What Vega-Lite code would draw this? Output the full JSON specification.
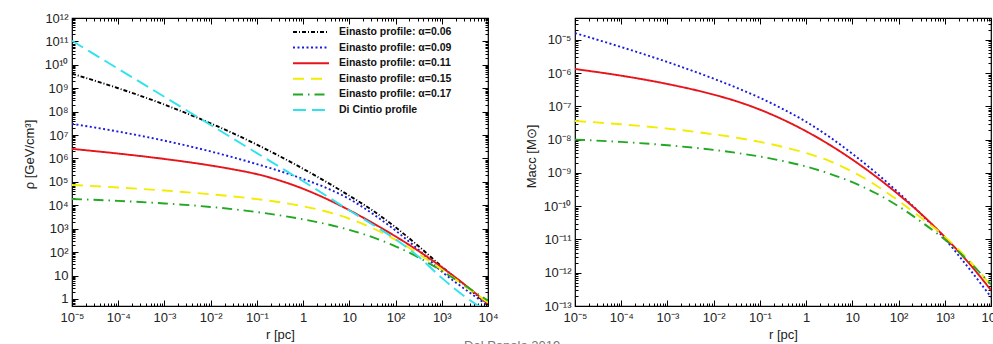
{
  "$schema": "https://vega.github.io/schema/vega-lite/v6.json",
  "background": "white",
  "padding": {"left": 22, "top": 11, "right": 4, "bottom": 0},
  "bounds": "flush",
  "spacing": 87,
  "config": {
    "font": "Liberation Sans",
    "view": {"stroke": "black", "strokeWidth": 1.2},
    "axis": {
      "domain": false, "grid": false, "tickColor": "black", "tickWidth": 1,
      "labelColor": "#222", "labelFontSize": 13, "labelFont": "Liberation Sans",
      "titleColor": "#222", "titleFontSize": 13, "titleFontWeight": "normal", "titleFont": "Liberation Sans",
      "labelOverlap": false, "labelFlush": false
    }
  },
  "title": {"text": "Del Popolo 2019", "orient": "bottom", "anchor": "middle", "color": "#777", "fontSize": 13, "fontWeight": "normal", "offset": -2},
  "resolve": {"scale": {"color": "independent", "strokeDash": "independent"}},
  "datasets": {
    "rho": [
      {"series": "Einasto profile: α=0.06", "r": 1e-5, "value": 4.17e9},
      {"series": "Einasto profile: α=0.06", "r": 1e-4, "value": 1e9},
      {"series": "Einasto profile: α=0.06", "r": 1e-3, "value": 2.0e8},
      {"series": "Einasto profile: α=0.06", "r": 0.01, "value": 3.16e7},
      {"series": "Einasto profile: α=0.06", "r": 0.03162, "value": 1.15e7},
      {"series": "Einasto profile: α=0.06", "r": 0.1, "value": 3.89e6},
      {"series": "Einasto profile: α=0.06", "r": 0.3162, "value": 1.23e6},
      {"series": "Einasto profile: α=0.06", "r": 1, "value": 3.63e5},
      {"series": "Einasto profile: α=0.06", "r": 3.162, "value": 1.0e5},
      {"series": "Einasto profile: α=0.06", "r": 10, "value": 2.57e4},
      {"series": "Einasto profile: α=0.06", "r": 31.62, "value": 6095},
      {"series": "Einasto profile: α=0.06", "r": 100, "value": 1148},
      {"series": "Einasto profile: α=0.06", "r": 316.2, "value": 178},
      {"series": "Einasto profile: α=0.06", "r": 1000, "value": 24.0},
      {"series": "Einasto profile: α=0.06", "r": 3162, "value": 3.8},
      {"series": "Einasto profile: α=0.06", "r": 10000, "value": 0.562},
      {"series": "Einasto profile: α=0.09", "r": 1e-5, "value": 3.02e7},
      {"series": "Einasto profile: α=0.09", "r": 1e-4, "value": 1.41e7},
      {"series": "Einasto profile: α=0.09", "r": 1e-3, "value": 5.75e6},
      {"series": "Einasto profile: α=0.09", "r": 0.01, "value": 2.0e6},
      {"series": "Einasto profile: α=0.09", "r": 0.03162, "value": 1.10e6},
      {"series": "Einasto profile: α=0.09", "r": 0.1, "value": 5.75e5},
      {"series": "Einasto profile: α=0.09", "r": 0.3162, "value": 2.88e5},
      {"series": "Einasto profile: α=0.09", "r": 1, "value": 1.33e5},
      {"series": "Einasto profile: α=0.09", "r": 3.162, "value": 5.56e4},
      {"series": "Einasto profile: α=0.09", "r": 10, "value": 1.86e4},
      {"series": "Einasto profile: α=0.09", "r": 31.62, "value": 4416},
      {"series": "Einasto profile: α=0.09", "r": 100, "value": 832},
      {"series": "Einasto profile: α=0.09", "r": 316.2, "value": 124.5},
      {"series": "Einasto profile: α=0.09", "r": 1000, "value": 14.8},
      {"series": "Einasto profile: α=0.09", "r": 3162, "value": 2.63},
      {"series": "Einasto profile: α=0.09", "r": 10000, "value": 0.525},
      {"series": "Einasto profile: α=0.11", "r": 1e-5, "value": 2.57e6},
      {"series": "Einasto profile: α=0.11", "r": 1e-4, "value": 1.62e6},
      {"series": "Einasto profile: α=0.11", "r": 1e-3, "value": 9.55e5},
      {"series": "Einasto profile: α=0.11", "r": 0.01, "value": 5.01e5},
      {"series": "Einasto profile: α=0.11", "r": 0.03162, "value": 3.39e5},
      {"series": "Einasto profile: α=0.11", "r": 0.1, "value": 2.14e5},
      {"series": "Einasto profile: α=0.11", "r": 0.3162, "value": 1.135e5},
      {"series": "Einasto profile: α=0.11", "r": 1, "value": 5.07e4},
      {"series": "Einasto profile: α=0.11", "r": 3.162, "value": 1.905e4},
      {"series": "Einasto profile: α=0.11", "r": 10, "value": 6166},
      {"series": "Einasto profile: α=0.11", "r": 31.62, "value": 1778},
      {"series": "Einasto profile: α=0.11", "r": 100, "value": 468},
      {"series": "Einasto profile: α=0.11", "r": 316.2, "value": 111},
      {"series": "Einasto profile: α=0.11", "r": 1000, "value": 22.6},
      {"series": "Einasto profile: α=0.11", "r": 3162, "value": 4.03},
      {"series": "Einasto profile: α=0.11", "r": 10000, "value": 0.624},
      {"series": "Einasto profile: α=0.15", "r": 1e-5, "value": 7.41e4},
      {"series": "Einasto profile: α=0.15", "r": 1e-4, "value": 5.75e4},
      {"series": "Einasto profile: α=0.15", "r": 1e-3, "value": 4.27e4},
      {"series": "Einasto profile: α=0.15", "r": 0.01, "value": 2.95e4},
      {"series": "Einasto profile: α=0.15", "r": 0.03162, "value": 2.37e4},
      {"series": "Einasto profile: α=0.15", "r": 0.1, "value": 1.84e4},
      {"series": "Einasto profile: α=0.15", "r": 0.3162, "value": 1.35e4},
      {"series": "Einasto profile: α=0.15", "r": 1, "value": 9120},
      {"series": "Einasto profile: α=0.15", "r": 3.162, "value": 5433},
      {"series": "Einasto profile: α=0.15", "r": 10, "value": 2661},
      {"series": "Einasto profile: α=0.15", "r": 31.62, "value": 1059},
      {"series": "Einasto profile: α=0.15", "r": 100, "value": 335},
      {"series": "Einasto profile: α=0.15", "r": 316.2, "value": 84.1},
      {"series": "Einasto profile: α=0.15", "r": 1000, "value": 17.8},
      {"series": "Einasto profile: α=0.15", "r": 3162, "value": 3.55},
      {"series": "Einasto profile: α=0.15", "r": 10000, "value": 0.708},
      {"series": "Einasto profile: α=0.17", "r": 1e-5, "value": 1.86e4},
      {"series": "Einasto profile: α=0.17", "r": 1e-4, "value": 1.55e4},
      {"series": "Einasto profile: α=0.17", "r": 1e-3, "value": 1.20e4},
      {"series": "Einasto profile: α=0.17", "r": 0.01, "value": 8511},
      {"series": "Einasto profile: α=0.17", "r": 0.03162, "value": 6761},
      {"series": "Einasto profile: α=0.17", "r": 0.1, "value": 5129},
      {"series": "Einasto profile: α=0.17", "r": 0.3162, "value": 3715},
      {"series": "Einasto profile: α=0.17", "r": 1, "value": 2512},
      {"series": "Einasto profile: α=0.17", "r": 3.162, "value": 1585},
      {"series": "Einasto profile: α=0.17", "r": 10, "value": 891},
      {"series": "Einasto profile: α=0.17", "r": 31.62, "value": 437},
      {"series": "Einasto profile: α=0.17", "r": 100, "value": 178},
      {"series": "Einasto profile: α=0.17", "r": 316.2, "value": 58.9},
      {"series": "Einasto profile: α=0.17", "r": 1000, "value": 15.8},
      {"series": "Einasto profile: α=0.17", "r": 3162, "value": 3.76},
      {"series": "Einasto profile: α=0.17", "r": 10000, "value": 0.841},
      {"series": "Di Cintio profile", "r": 1e-5, "value": 1.07e11},
      {"series": "Di Cintio profile", "r": 1e-4, "value": 6.76e9},
      {"series": "Di Cintio profile", "r": 1e-3, "value": 4.27e8},
      {"series": "Di Cintio profile", "r": 0.01, "value": 2.69e7},
      {"series": "Di Cintio profile", "r": 0.03162, "value": 6.76e6},
      {"series": "Di Cintio profile", "r": 0.1, "value": 1.70e6},
      {"series": "Di Cintio profile", "r": 0.3162, "value": 4.27e5},
      {"series": "Di Cintio profile", "r": 1, "value": 1.07e5},
      {"series": "Di Cintio profile", "r": 3.162, "value": 2.57e4},
      {"series": "Di Cintio profile", "r": 10, "value": 6026},
      {"series": "Di Cintio profile", "r": 31.62, "value": 1514},
      {"series": "Di Cintio profile", "r": 100, "value": 355},
      {"series": "Di Cintio profile", "r": 316.2, "value": 63.1},
      {"series": "Di Cintio profile", "r": 1000, "value": 7.94},
      {"series": "Di Cintio profile", "r": 3162, "value": 1.26},
      {"series": "Di Cintio profile", "r": 10000, "value": 0.282}
    ],
    "macc": [
      {"series": "Einasto profile: α=0.09", "r": 1e-5, "value": 1.585e-5},
      {"series": "Einasto profile: α=0.09", "r": 1e-4, "value": 6.03e-6},
      {"series": "Einasto profile: α=0.09", "r": 1e-3, "value": 2.14e-6},
      {"series": "Einasto profile: α=0.09", "r": 0.01, "value": 6.76e-7},
      {"series": "Einasto profile: α=0.09", "r": 0.03162, "value": 3.59e-7},
      {"series": "Einasto profile: α=0.09", "r": 0.1, "value": 1.80e-7},
      {"series": "Einasto profile: α=0.09", "r": 0.3162, "value": 8.22e-8},
      {"series": "Einasto profile: α=0.09", "r": 1, "value": 3.43e-8},
      {"series": "Einasto profile: α=0.09", "r": 3.162, "value": 1.216e-8},
      {"series": "Einasto profile: α=0.09", "r": 10, "value": 3.76e-9},
      {"series": "Einasto profile: α=0.09", "r": 31.62, "value": 1.035e-9},
      {"series": "Einasto profile: α=0.09", "r": 100, "value": 2.54e-10},
      {"series": "Einasto profile: α=0.09", "r": 316.2, "value": 5.56e-11},
      {"series": "Einasto profile: α=0.09", "r": 1000, "value": 1.047e-11},
      {"series": "Einasto profile: α=0.09", "r": 3162, "value": 1.48e-12},
      {"series": "Einasto profile: α=0.09", "r": 10000, "value": 1.86e-13},
      {"series": "Einasto profile: α=0.11", "r": 1e-5, "value": 1.318e-6},
      {"series": "Einasto profile: α=0.11", "r": 1e-4, "value": 8.32e-7},
      {"series": "Einasto profile: α=0.11", "r": 1e-3, "value": 4.68e-7},
      {"series": "Einasto profile: α=0.11", "r": 0.01, "value": 2.24e-7},
      {"series": "Einasto profile: α=0.11", "r": 0.03162, "value": 1.41e-7},
      {"series": "Einasto profile: α=0.11", "r": 0.1, "value": 7.94e-8},
      {"series": "Einasto profile: α=0.11", "r": 0.3162, "value": 3.98e-8},
      {"series": "Einasto profile: α=0.11", "r": 1, "value": 1.778e-8},
      {"series": "Einasto profile: α=0.11", "r": 3.162, "value": 7.08e-9},
      {"series": "Einasto profile: α=0.11", "r": 10, "value": 2.51e-9},
      {"series": "Einasto profile: α=0.11", "r": 31.62, "value": 7.94e-10},
      {"series": "Einasto profile: α=0.11", "r": 100, "value": 2.24e-10},
      {"series": "Einasto profile: α=0.11", "r": 316.2, "value": 5.62e-11},
      {"series": "Einasto profile: α=0.11", "r": 1000, "value": 1.189e-11},
      {"series": "Einasto profile: α=0.11", "r": 3162, "value": 2.11e-12},
      {"series": "Einasto profile: α=0.11", "r": 10000, "value": 2.99e-13},
      {"series": "Einasto profile: α=0.15", "r": 1e-5, "value": 3.63e-8},
      {"series": "Einasto profile: α=0.15", "r": 1e-4, "value": 2.88e-8},
      {"series": "Einasto profile: α=0.15", "r": 1e-3, "value": 2.14e-8},
      {"series": "Einasto profile: α=0.15", "r": 0.01, "value": 1.445e-8},
      {"series": "Einasto profile: α=0.15", "r": 0.03162, "value": 1.135e-8},
      {"series": "Einasto profile: α=0.15", "r": 0.1, "value": 8.51e-9},
      {"series": "Einasto profile: α=0.15", "r": 0.3162, "value": 6.03e-9},
      {"series": "Einasto profile: α=0.15", "r": 1, "value": 3.94e-9},
      {"series": "Einasto profile: α=0.15", "r": 3.162, "value": 2.29e-9},
      {"series": "Einasto profile: α=0.15", "r": 10, "value": 1.084e-9},
      {"series": "Einasto profile: α=0.15", "r": 31.62, "value": 4.32e-10},
      {"series": "Einasto profile: α=0.15", "r": 100, "value": 1.445e-10},
      {"series": "Einasto profile: α=0.15", "r": 316.2, "value": 4.32e-11},
      {"series": "Einasto profile: α=0.15", "r": 1000, "value": 1.216e-11},
      {"series": "Einasto profile: α=0.15", "r": 3162, "value": 2.57e-12},
      {"series": "Einasto profile: α=0.15", "r": 10000, "value": 4.07e-13},
      {"series": "Einasto profile: α=0.17", "r": 1e-5, "value": 1.0e-8},
      {"series": "Einasto profile: α=0.17", "r": 1e-4, "value": 8.51e-9},
      {"series": "Einasto profile: α=0.17", "r": 1e-3, "value": 6.76e-9},
      {"series": "Einasto profile: α=0.17", "r": 0.01, "value": 4.90e-9},
      {"series": "Einasto profile: α=0.17", "r": 0.03162, "value": 3.98e-9},
      {"series": "Einasto profile: α=0.17", "r": 0.1, "value": 3.09e-9},
      {"series": "Einasto profile: α=0.17", "r": 0.3162, "value": 2.265e-9},
      {"series": "Einasto profile: α=0.17", "r": 1, "value": 1.549e-9},
      {"series": "Einasto profile: α=0.17", "r": 3.162, "value": 9.55e-10},
      {"series": "Einasto profile: α=0.17", "r": 10, "value": 5.25e-10},
      {"series": "Einasto profile: α=0.17", "r": 31.62, "value": 2.48e-10},
      {"series": "Einasto profile: α=0.17", "r": 100, "value": 9.89e-11},
      {"series": "Einasto profile: α=0.17", "r": 316.2, "value": 3.31e-11},
      {"series": "Einasto profile: α=0.17", "r": 1000, "value": 9.89e-12},
      {"series": "Einasto profile: α=0.17", "r": 3162, "value": 2.34e-12},
      {"series": "Einasto profile: α=0.17", "r": 10000, "value": 4.42e-13}
    ]
  },
  "hconcat": [
    {
      "width": 416, "height": 288,
      "data": {"name": "rho"},
      "layer": [
        {
          "mark": {"type": "line", "clip": true, "strokeWidth": 1.9, "interpolate": "monotone"},
          "encoding": {
            "x": {"field": "r", "type": "quantitative",
              "scale": {"type": "log", "domain": [1e-5, 1e4], "nice": false},
              "axis": {"orient": "bottom", "title": "r [pc]", "titlePadding": 1,
                "values": [1e-5,2e-5,3e-5,4e-5,5e-5,6e-5,7e-5,8e-5,9e-5,1e-4,2e-4,3e-4,4e-4,5e-4,6e-4,7e-4,8e-4,9e-4,0.001,0.002,0.003,0.004,0.005,0.006,0.007,0.008,0.009,0.01,0.02,0.03,0.04,0.05,0.06,0.07,0.08,0.09,0.1,0.2,0.3,0.4,0.5,0.6,0.7,0.8,0.9,1,2,3,4,5,6,7,8,9,10,20,30,40,50,60,70,80,90,100,200,300,400,500,600,700,800,900,1000,2000,3000,4000,5000,6000,7000,8000,9000,10000],
                "tickSize": {"condition": {"test": "abs(log(datum.value)/LN10-round(log(datum.value)/LN10))<0.001", "value": -6}, "value": -3},
                "labelPadding": 11,
                "labelExpr": "abs(log(datum.value)/LN10-round(log(datum.value)/LN10))<0.001 ? ['10⁻⁵','10⁻⁴','10⁻³','10⁻²','10⁻¹','1','10','10²','10³','10⁴'][round(log(datum.value)/LN10)+5] : ''"}},
            "y": {"field": "value", "type": "quantitative",
              "scale": {"type": "log", "domain": [0.5, 1e12], "nice": false},
              "axis": {"orient": "left", "title": "ρ [GeV/cm³]", "titlePadding": 8, "titleY": 136,
                "values": [0.6,0.7,0.8,0.9,1,2,3,4,5,6,7,8,9,10,20,30,40,50,60,70,80,90,100,200,300,400,500,600,700,800,900,1000,2000,3000,4000,5000,6000,7000,8000,9000,1e4,2e4,3e4,4e4,5e4,6e4,7e4,8e4,9e4,1e5,2e5,3e5,4e5,5e5,6e5,7e5,8e5,9e5,1e6,2e6,3e6,4e6,5e6,6e6,7e6,8e6,9e6,1e7,2e7,3e7,4e7,5e7,6e7,7e7,8e7,9e7,1e8,2e8,3e8,4e8,5e8,6e8,7e8,8e8,9e8,1e9,2e9,3e9,4e9,5e9,6e9,7e9,8e9,9e9,1e10,2e10,3e10,4e10,5e10,6e10,7e10,8e10,9e10,1e11,2e11,3e11,4e11,5e11,6e11,7e11,8e11,9e11,1e12],
                "tickSize": {"condition": {"test": "abs(log(datum.value)/LN10-round(log(datum.value)/LN10))<0.001", "value": -6}, "value": -3},
                "labelPadding": 10,
                "labelExpr": "abs(log(datum.value)/LN10-round(log(datum.value)/LN10))<0.001 ? ['1','10','10²','10³','10⁴','10⁵','10⁶','10⁷','10⁸','10⁹','10¹⁰','10¹¹','10¹²'][round(log(datum.value)/LN10)] : ''"}},
            "color": {"field": "series", "type": "nominal",
              "scale": {"domain": ["Einasto profile: α=0.06","Einasto profile: α=0.09","Einasto profile: α=0.11","Einasto profile: α=0.15","Einasto profile: α=0.17","Di Cintio profile"],
                "range": ["#000000","#1c1cdc","#e8141c","#f2ec00","#22a822","#30e2ee"]},
              "legend": {"orient": "none", "legendX": 232, "legendY": 7, "title": null, "padding": 0,
                "symbolType": "M-3,0H3", "symbolSize": 144, "symbolStrokeWidth": 2,
                "labelFontSize": 10.5, "labelFontWeight": "bold", "labelFont": "Liberation Sans", "labelColor": "#111",
                "labelOffset": 21, "rowPadding": 2.6}},
            "strokeDash": {"field": "series", "type": "nominal",
              "scale": {"domain": ["Einasto profile: α=0.06","Einasto profile: α=0.09","Einasto profile: α=0.11","Einasto profile: α=0.15","Einasto profile: α=0.17","Di Cintio profile"],
                "range": [[4,2,1,2],[2,2.5],[1,0],[11,7],[10,5,1.5,5],[13,6]]},
              "legend": {"orient": "none", "legendX": 232, "legendY": 7, "title": null, "padding": 0,
                "symbolType": "M-3,0H3", "symbolSize": 144, "symbolStrokeWidth": 2,
                "labelFontSize": 10.5, "labelFontWeight": "bold", "labelFont": "Liberation Sans", "labelColor": "#111",
                "labelOffset": 21, "rowPadding": 2.6}}
          }
        },
        {
          "mark": {"type": "line", "opacity": 0},
          "encoding": {
            "x": {"field": "r", "type": "quantitative",
              "axis": {"orient": "top", "title": null, "labels": false,
                "values": [1e-5,2e-5,3e-5,4e-5,5e-5,6e-5,7e-5,8e-5,9e-5,1e-4,2e-4,3e-4,4e-4,5e-4,6e-4,7e-4,8e-4,9e-4,0.001,0.002,0.003,0.004,0.005,0.006,0.007,0.008,0.009,0.01,0.02,0.03,0.04,0.05,0.06,0.07,0.08,0.09,0.1,0.2,0.3,0.4,0.5,0.6,0.7,0.8,0.9,1,2,3,4,5,6,7,8,9,10,20,30,40,50,60,70,80,90,100,200,300,400,500,600,700,800,900,1000,2000,3000,4000,5000,6000,7000,8000,9000,10000],
                "tickSize": {"condition": {"test": "abs(log(datum.value)/LN10-round(log(datum.value)/LN10))<0.001", "value": -6}, "value": -3}}},
            "y": {"field": "value", "type": "quantitative",
              "axis": {"orient": "right", "title": null, "labels": false,
                "values": [0.6,0.7,0.8,0.9,1,2,3,4,5,6,7,8,9,10,20,30,40,50,60,70,80,90,100,200,300,400,500,600,700,800,900,1000,2000,3000,4000,5000,6000,7000,8000,9000,1e4,2e4,3e4,4e4,5e4,6e4,7e4,8e4,9e4,1e5,2e5,3e5,4e5,5e5,6e5,7e5,8e5,9e5,1e6,2e6,3e6,4e6,5e6,6e6,7e6,8e6,9e6,1e7,2e7,3e7,4e7,5e7,6e7,7e7,8e7,9e7,1e8,2e8,3e8,4e8,5e8,6e8,7e8,8e8,9e8,1e9,2e9,3e9,4e9,5e9,6e9,7e9,8e9,9e9,1e10,2e10,3e10,4e10,5e10,6e10,7e10,8e10,9e10,1e11,2e11,3e11,4e11,5e11,6e11,7e11,8e11,9e11,1e12],
                "tickSize": {"condition": {"test": "abs(log(datum.value)/LN10-round(log(datum.value)/LN10))<0.001", "value": -6}, "value": -3}}}
          }
        }
      ],
      "resolve": {"axis": {"x": "independent", "y": "independent"}}
    },
    {
      "width": 416, "height": 288,
      "data": {"name": "macc"},
      "layer": [
        {
          "mark": {"type": "line", "clip": true, "strokeWidth": 1.9, "interpolate": "monotone"},
          "encoding": {
            "x": {"field": "r", "type": "quantitative",
              "scale": {"type": "log", "domain": [1e-5, 1e4], "nice": false},
              "axis": {"orient": "bottom", "title": "r [pc]", "titlePadding": 1,
                "values": [1e-5,2e-5,3e-5,4e-5,5e-5,6e-5,7e-5,8e-5,9e-5,1e-4,2e-4,3e-4,4e-4,5e-4,6e-4,7e-4,8e-4,9e-4,0.001,0.002,0.003,0.004,0.005,0.006,0.007,0.008,0.009,0.01,0.02,0.03,0.04,0.05,0.06,0.07,0.08,0.09,0.1,0.2,0.3,0.4,0.5,0.6,0.7,0.8,0.9,1,2,3,4,5,6,7,8,9,10,20,30,40,50,60,70,80,90,100,200,300,400,500,600,700,800,900,1000,2000,3000,4000,5000,6000,7000,8000,9000,10000],
                "tickSize": {"condition": {"test": "abs(log(datum.value)/LN10-round(log(datum.value)/LN10))<0.001", "value": -6}, "value": -3},
                "labelPadding": 11,
                "labelExpr": "abs(log(datum.value)/LN10-round(log(datum.value)/LN10))<0.001 ? ['10⁻⁵','10⁻⁴','10⁻³','10⁻²','10⁻¹','1','10','10²','10³','10⁴'][round(log(datum.value)/LN10)+5] : ''"}},
            "y": {"field": "value", "type": "quantitative",
              "scale": {"type": "log", "domain": [1e-13, 4.5e-5], "nice": false},
              "axis": {"orient": "left", "title": "Macc [M⊙]", "titlePadding": 5, "titleY": 138,
                "values": [1e-13,2e-13,3e-13,4e-13,5e-13,6e-13,7e-13,8e-13,9e-13,1e-12,2e-12,3e-12,4e-12,5e-12,6e-12,7e-12,8e-12,9e-12,1e-11,2e-11,3e-11,4e-11,5e-11,6e-11,7e-11,8e-11,9e-11,1e-10,2e-10,3e-10,4e-10,5e-10,6e-10,7e-10,8e-10,9e-10,1e-9,2e-9,3e-9,4e-9,5e-9,6e-9,7e-9,8e-9,9e-9,1e-8,2e-8,3e-8,4e-8,5e-8,6e-8,7e-8,8e-8,9e-8,1e-7,2e-7,3e-7,4e-7,5e-7,6e-7,7e-7,8e-7,9e-7,1e-6,2e-6,3e-6,4e-6,5e-6,6e-6,7e-6,8e-6,9e-6,1e-5,2e-5,3e-5,4e-5],
                "tickSize": {"condition": {"test": "abs(log(datum.value)/LN10-round(log(datum.value)/LN10))<0.001", "value": -6}, "value": -3},
                "labelPadding": 10,
                "labelExpr": "abs(log(datum.value)/LN10-round(log(datum.value)/LN10))<0.001 ? ['10⁻¹³','10⁻¹²','10⁻¹¹','10⁻¹⁰','10⁻⁹','10⁻⁸','10⁻⁷','10⁻⁶','10⁻⁵'][round(log(datum.value)/LN10)+13] : ''"}},
            "color": {"field": "series", "type": "nominal",
              "scale": {"domain": ["Einasto profile: α=0.06","Einasto profile: α=0.09","Einasto profile: α=0.11","Einasto profile: α=0.15","Einasto profile: α=0.17","Di Cintio profile"],
                "range": ["#000000","#1c1cdc","#e8141c","#f2ec00","#22a822","#30e2ee"]},
              "legend": null},
            "strokeDash": {"field": "series", "type": "nominal",
              "scale": {"domain": ["Einasto profile: α=0.06","Einasto profile: α=0.09","Einasto profile: α=0.11","Einasto profile: α=0.15","Einasto profile: α=0.17","Di Cintio profile"],
                "range": [[4,2,1,2],[2,2.5],[1,0],[11,7],[10,5,1.5,5],[13,6]]},
              "legend": null}
          }
        },
        {
          "mark": {"type": "line", "opacity": 0},
          "encoding": {
            "x": {"field": "r", "type": "quantitative",
              "axis": {"orient": "top", "title": null, "labels": false,
                "values": [1e-5,2e-5,3e-5,4e-5,5e-5,6e-5,7e-5,8e-5,9e-5,1e-4,2e-4,3e-4,4e-4,5e-4,6e-4,7e-4,8e-4,9e-4,0.001,0.002,0.003,0.004,0.005,0.006,0.007,0.008,0.009,0.01,0.02,0.03,0.04,0.05,0.06,0.07,0.08,0.09,0.1,0.2,0.3,0.4,0.5,0.6,0.7,0.8,0.9,1,2,3,4,5,6,7,8,9,10,20,30,40,50,60,70,80,90,100,200,300,400,500,600,700,800,900,1000,2000,3000,4000,5000,6000,7000,8000,9000,10000],
                "tickSize": {"condition": {"test": "abs(log(datum.value)/LN10-round(log(datum.value)/LN10))<0.001", "value": -6}, "value": -3}}},
            "y": {"field": "value", "type": "quantitative",
              "axis": {"orient": "right", "title": null, "labels": false,
                "values": [1e-13,2e-13,3e-13,4e-13,5e-13,6e-13,7e-13,8e-13,9e-13,1e-12,2e-12,3e-12,4e-12,5e-12,6e-12,7e-12,8e-12,9e-12,1e-11,2e-11,3e-11,4e-11,5e-11,6e-11,7e-11,8e-11,9e-11,1e-10,2e-10,3e-10,4e-10,5e-10,6e-10,7e-10,8e-10,9e-10,1e-9,2e-9,3e-9,4e-9,5e-9,6e-9,7e-9,8e-9,9e-9,1e-8,2e-8,3e-8,4e-8,5e-8,6e-8,7e-8,8e-8,9e-8,1e-7,2e-7,3e-7,4e-7,5e-7,6e-7,7e-7,8e-7,9e-7,1e-6,2e-6,3e-6,4e-6,5e-6,6e-6,7e-6,8e-6,9e-6,1e-5,2e-5,3e-5,4e-5],
                "tickSize": {"condition": {"test": "abs(log(datum.value)/LN10-round(log(datum.value)/LN10))<0.001", "value": -6}, "value": -3}}}
          }
        }
      ],
      "resolve": {"axis": {"x": "independent", "y": "independent"}}
    }
  ]
}
